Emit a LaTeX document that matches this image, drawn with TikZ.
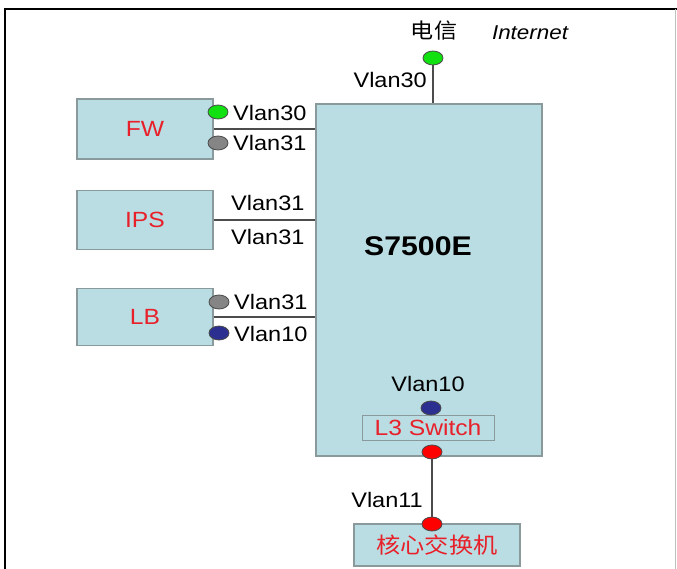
\documentclass[tikz,border=0pt]{standalone}
\usepackage{fontspec}
\setmainfont[FakeStretch=1.12]{Liberation Sans}
\newfontfamily\cjk[FakeStretch=1.1]{Noto Sans CJK SC}
\usepackage{xcolor}
\usetikzlibrary{positioning,shapes.geometric}
\definecolor{boxfill}{HTML}{B9DDE3}
\definecolor{boxline}{HTML}{8A9A9C}
\definecolor{devred}{HTML}{E8202A}
\definecolor{portgreen}{HTML}{11E011}
\definecolor{portgray}{HTML}{858585}
\definecolor{portblue}{HTML}{2B2F8F}

\begin{document}
\begin{tikzpicture}[x=1pt, y=-1pt,
  devbox/.style={draw=boxline, fill=boxfill, line width=1.2pt, inner sep=0pt, text=devred, font=\fontsize{22}{24}\selectfont},
  port/.style={ellipse, draw=black!70, line width=0.8pt, minimum width=20pt, minimum height=14pt, inner sep=0pt},
  vlan/.style={font=\fontsize{21}{24}\selectfont, inner sep=0pt},
  link/.style={draw=black!70, line width=1.4pt}
]
\useasboundingbox (0,0) rectangle (677,569);
\draw[line width=1.2pt] (5,569) -- (5,9) -- (677,9);
\draw[black!25, line width=0.8pt] (675,9) -- (675,569);

% main switch
\node[devbox, text=black, minimum width=226pt, minimum height=352pt] (main) at (429,280) {};
\node[font=\bfseries\fontsize{27}{29}\selectfont] (mainlbl) at (418,246) {S7500E};
\node[devbox, minimum width=132pt, minimum height=25pt, line width=1pt] (l3) at (428,428) {L3 Switch};

% devices
\node[devbox, minimum width=136pt, minimum height=60pt] (fw) at (145,129) {FW};
\node[devbox, minimum width=136pt, minimum height=59pt] (ips) at (145,220) {IPS};
\node[devbox, minimum width=136pt, minimum height=57pt] (lb) at (145,317) {LB};
\node[devbox, minimum width=166pt, minimum height=42pt] (core) at (437,545) {\cjk 核心交换机};

% links
\draw[link] (fw.east) -- (fw.east -| main.west);
\draw[link] (ips.east) -- (ips.east -| main.west);
\draw[link] (lb.east) -- (lb.east -| main.west);

% ports
\node[port, fill=portgreen] (fw30) at (218,112) {};
\node[port, fill=portgray] (fw31) at (218,143) {};
\node[port, fill=portgray] (lb31) at (219,302) {};
\node[port, fill=portblue] (lb10) at (219,333) {};
\node[port, fill=portblue] (l3in) at (431,408) {};
\node[port, fill=portgreen] (inet) at (433,58) {};
\draw[link] (inet) -- (inet |- main.north);
\node[port, fill=red] (l3out) at (432,452) {};
\node[port, fill=red] (coreport) at (432,524) {};
\draw[link] (l3out) -- (coreport);

% vlan labels
\node[vlan, anchor=west] (v1) at (233,113) {Vlan30};
\node[vlan, anchor=west] (v2) at (233,143) {Vlan31};
\node[vlan, anchor=west] (v3) at (231,203) {Vlan31};
\node[vlan, anchor=west] (v4) at (231,237) {Vlan31};
\node[vlan, anchor=west] (v5) at (234,302) {Vlan31};
\node[vlan, anchor=west] (v6) at (234,334) {Vlan10};
\node[vlan, anchor=east] (v7) at (427,80) {Vlan30};
\node[vlan] (v8) at (428,384) {Vlan10};
\node[vlan, anchor=east] (v9) at (423,500) {Vlan11};
\node[vlan, font=\cjk\fontsize{21}{24}\selectfont] (telecom) at (434,31) {电信};
\node[vlan, font=\itshape\fontsize{20}{24}\selectfont] (internet) at (530,33) {Internet};
\end{tikzpicture}
\end{document}
